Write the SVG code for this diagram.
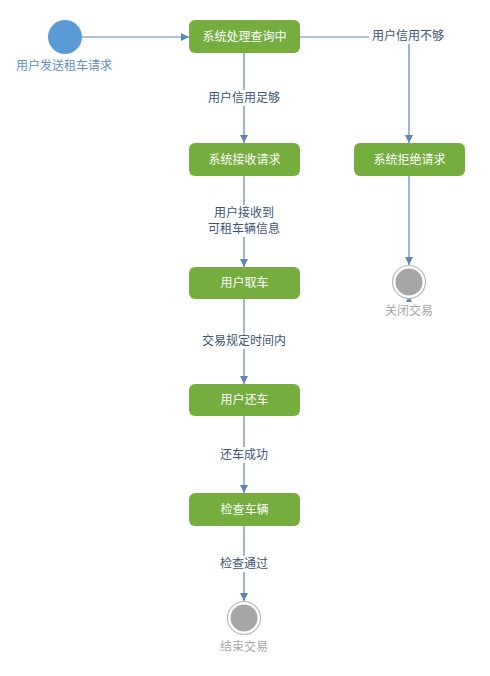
<svg xmlns="http://www.w3.org/2000/svg" width="490" height="676" viewBox="0 0 490 676">
<defs>
<marker id="arr" viewBox="0 0 8 8" refX="8" refY="4" markerWidth="8" markerHeight="8" markerUnits="userSpaceOnUse" orient="auto">
<path d="M0,0 L8,4 L0,8 Z" fill="#5b86b8"/>
</marker>
<style>
.node rect{fill:#75ad3f;}
.node text{fill:#ffffff;font-family:"Noto Sans CJK SC","Liberation Sans",sans-serif;font-size:12px;text-anchor:middle;}
.edge{stroke:#5b86b8;stroke-width:1.2;fill:none;}
.lbl{fill:#3a5576;font-family:"Noto Sans CJK SC","Liberation Sans",sans-serif;font-size:12px;text-anchor:middle;}
.end-outer{fill:#ffffff;stroke:#b8b8b8;stroke-width:1.2;}
.end-inner{fill:#a6a6a6;}
.endlbl{fill:#a8a8a8;font-family:"Noto Sans CJK SC","Liberation Sans",sans-serif;font-size:12px;text-anchor:middle;}
</style>
</defs>
<rect width="490" height="676" fill="#ffffff"/>
<g id="connectors">
<line class="edge" x1="82" y1="37" x2="189" y2="37" marker-end="url(#arr)"/>
<polyline class="edge" points="300,37 409,37 409,143" marker-end="url(#arr)"/>
<line class="edge" x1="244" y1="53" x2="244" y2="143" marker-end="url(#arr)"/>
<line class="edge" x1="244" y1="176" x2="244" y2="267" marker-end="url(#arr)"/>
<line class="edge" x1="244" y1="299" x2="244" y2="384" marker-end="url(#arr)"/>
<line class="edge" x1="244" y1="416" x2="244" y2="493" marker-end="url(#arr)"/>
<line class="edge" x1="244" y1="526" x2="244" y2="601" marker-end="url(#arr)"/>
<line class="edge" x1="409" y1="176" x2="409" y2="265" marker-end="url(#arr)"/>
<polygon points="409,296 412,302 406,302" fill="#5b86b8"/>
<rect x="369" y="28" width="78" height="16" fill="#ffffff"/>
<text class="lbl" x="408" y="40">用户信用不够</text>
<rect x="205" y="90" width="78" height="16" fill="#ffffff"/>
<text class="lbl" x="244" y="102">用户信用足够</text>
<rect x="205" y="205" width="78" height="32" fill="#ffffff"/>
<text class="lbl" x="244" y="217">用户接收到</text>
<text class="lbl" x="244" y="233">可租车辆信息</text>
<rect x="200" y="333" width="88" height="16" fill="#ffffff"/>
<text class="lbl" x="244" y="345">交易规定时间内</text>
<rect x="217" y="447" width="54" height="16" fill="#ffffff"/>
<text class="lbl" x="244" y="459">还车成功</text>
<rect x="217" y="556" width="54" height="16" fill="#ffffff"/>
<text class="lbl" x="244" y="568">检查通过</text>
</g>
<g id="start">
<circle cx="65" cy="37" r="17" fill="#5b9bd5"/>
<text x="64" y="70" fill="#5b8fc6" font-family="'Noto Sans CJK SC','Liberation Sans',sans-serif" font-size="12" text-anchor="middle">用户发送租车请求</text>
</g>
<g id="n1" class="node"><rect x="189" y="20" width="111" height="33" rx="6"/><text x="244.5" y="41">系统处理查询中</text></g>
<g id="n2" class="node"><rect x="189" y="143" width="111" height="33" rx="6"/><text x="244.5" y="164">系统接收请求</text></g>
<g id="n3" class="node"><rect x="354" y="143" width="111" height="33" rx="6"/><text x="409.5" y="164">系统拒绝请求</text></g>
<g id="n4" class="node"><rect x="189" y="267" width="111" height="32" rx="6"/><text x="244.5" y="287">用户取车</text></g>
<g id="n5" class="node"><rect x="189" y="384" width="111" height="32" rx="6"/><text x="244.5" y="404">用户还车</text></g>
<g id="n6" class="node"><rect x="189" y="493" width="111" height="33" rx="6"/><text x="244.5" y="514">检查车辆</text></g>
<g id="end1">
<circle class="end-outer" cx="409" cy="282" r="16.5"/>
<circle class="end-inner" cx="409" cy="282" r="13.5"/>
<text class="endlbl" x="409" y="315">关闭交易</text>
</g>
<g id="end2">
<circle class="end-outer" cx="244" cy="618" r="16.5"/>
<circle class="end-inner" cx="244" cy="618" r="13.5"/>
<text class="endlbl" x="244" y="651">结束交易</text>
</g>
</svg>
